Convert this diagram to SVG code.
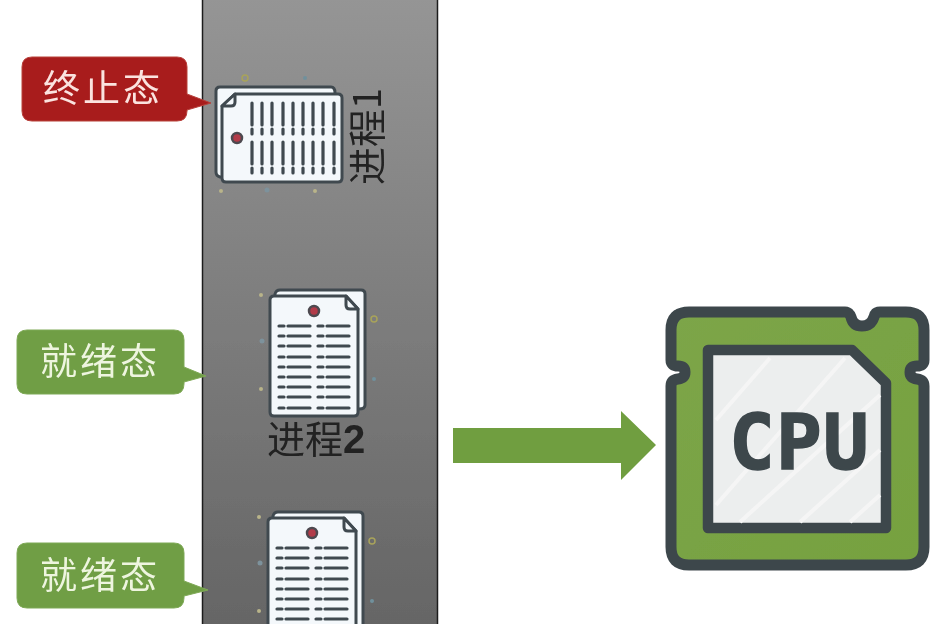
<svg xmlns="http://www.w3.org/2000/svg" width="939" height="624" viewBox="0 0 939 624">
<style>
.call{stroke-width:1}
.calltext{font-family:"Noto Sans CJK SC","Liberation Sans",sans-serif;font-size:37px;letter-spacing:3px;text-anchor:middle}
.label{font-family:"Noto Sans CJK SC","Liberation Sans",sans-serif;font-size:38px;fill:#222}
.page{fill:#f4f8fb;stroke:#3f4a50;stroke-width:3;stroke-linejoin:round}
.row{stroke:#3f4a50;stroke-width:3.200;stroke-linecap:round;fill:none}
</style>
<defs>
<filter id="soft" filterUnits="userSpaceOnUse" x="0" y="0" width="939" height="624"><feGaussianBlur stdDeviation="0.6"/></filter>
<linearGradient id="panel" x1="0" y1="0" x2="0" y2="1"><stop offset="0" stop-color="#959595"/><stop offset="1" stop-color="#656565"/></linearGradient>
<linearGradient id="green" x1="0" y1="0" x2="1" y2="1"><stop offset="0" stop-color="#7ca548"/><stop offset="1" stop-color="#76a140"/></linearGradient>
<g id="rows">
<path class="row" d="M0 0h5M9 0h22M39 0h5M48 0h22"/>
</g>
<g id="doc">
<path class="page" d="M6 5Q7 1 11 1H92Q96 1 96 5V116Q96 120 90 120H6Z"/>
<path class="page" d="M5 7H77L89 20V123Q89 127 85 127H5Q1 127 1 123V11Q1 7 5 7Z"/>
<path class="page" stroke-width="2" d="M77 7V16Q77 20 81 20H89Z"/>
<circle cx="45" cy="22" r="5" fill="#b23a48" stroke="#4d4a50" stroke-width="2.500"/>
<use href="#rows" x="10" y="37"/><use href="#rows" x="10" y="47"/><use href="#rows" x="10" y="57"/>
<use href="#rows" x="10" y="68"/><use href="#rows" x="10" y="78"/><use href="#rows" x="10" y="88"/>
<use href="#rows" x="10" y="98"/><use href="#rows" x="10" y="108"/><use href="#rows" x="10" y="119"/>
<circle cx="-8" cy="6" r="2" fill="#b9b48a"/><circle cx="105" cy="30" r="3" fill="none" stroke="#a8a35a" stroke-width="1.500"/>
<circle cx="-7" cy="52" r="2.500" fill="#7d929c"/><circle cx="105" cy="90" r="2" fill="#6f909c"/><circle cx="-8" cy="100" r="2" fill="#b9b48a"/>
</g>
</defs>
<rect width="939" height="624" fill="#fff"/>
<g filter="url(#soft)">
<rect id="panel-bg" x="202.500" y="-2" width="235" height="630" fill="url(#panel)" stroke="#1c1c1c" stroke-width="1.500"/>

<g id="process1"><use href="#doc" transform="translate(215 183) rotate(-90)"/>
<text class="label" transform="translate(381 185) rotate(-90)" font-size="37">进程1</text></g>
<g id="process2"><use href="#doc" x="269" y="289"/><text class="label" x="267" y="453">进程<tspan font-weight="700" font-size="40" font-family="Liberation Sans">2</tspan></text></g>
<g id="process3"><use href="#doc" x="267" y="511"/></g>

<g id="state1"><path class="call" fill="#a81f1f" stroke="#b8403a" d="M32 57H177Q187 57 187 67V94L211 103L187 110V111Q187 121 177 121H32Q22 121 22 111V67Q22 57 32 57Z"/><text class="calltext" x="103" y="102" fill="#fbe3df">终止态</text></g>
<g id="state2"><path class="call" fill="#6f9e45" stroke="#7fa957" d="M27 330H174Q184 330 184 340V367L206 376L184 382V384Q184 394 174 394H27Q17 394 17 384V340Q17 330 27 330Z"/><text class="calltext" x="100" y="375" fill="#eef5df">就绪态</text></g>
<g id="state3"><path class="call" fill="#6f9e45" stroke="#7fa957" d="M27 543H174Q184 543 184 553V581L208 590L184 596V598Q184 608 174 608H27Q17 608 17 598V553Q17 543 27 543Z"/><text class="calltext" x="100" y="589" fill="#eef5df">就绪态</text></g>

<g id="connectors"><path d="M453 428H621V411L656 445L621 480V463H453Z" fill="#6f9e3f"/></g>

<g id="cpu">
<path d="M689 312H845Q849 312 851 317Q853 326 862 326Q871 326 874 317Q875 312 880 312H906Q924 312 924 330V360Q924 366 917 366Q910 366 910 372Q910 378 917 379Q924 380 924 386V547Q924 565 906 565H689Q671 565 671 547V386Q671 380 678 379Q685 378 685 372Q685 366 678 366Q671 366 671 360V330Q671 312 689 312Z" fill="url(#green)" stroke="#3d474c" stroke-width="11" stroke-linejoin="round"/>
<path d="M708 350H852L886 383V528H708Z" fill="#eceeee" stroke="#3d474c" stroke-width="10.500" stroke-linejoin="round"/>
<path d="M716 420L770 358M716 505L845 358M740 522L880 395M800 522L880 450M850 522L880 495" stroke="#f5f5f5" stroke-width="4" fill="none"/>
<text y="469" font-family="DejaVu Sans Mono, monospace" font-weight="700" font-size="76" fill="#3d474c" stroke="#3d474c" stroke-width="1.500"><tspan x="729">C</tspan><tspan x="776">P</tspan><tspan x="823">U</tspan></text>
</g>
</g>
</svg>
